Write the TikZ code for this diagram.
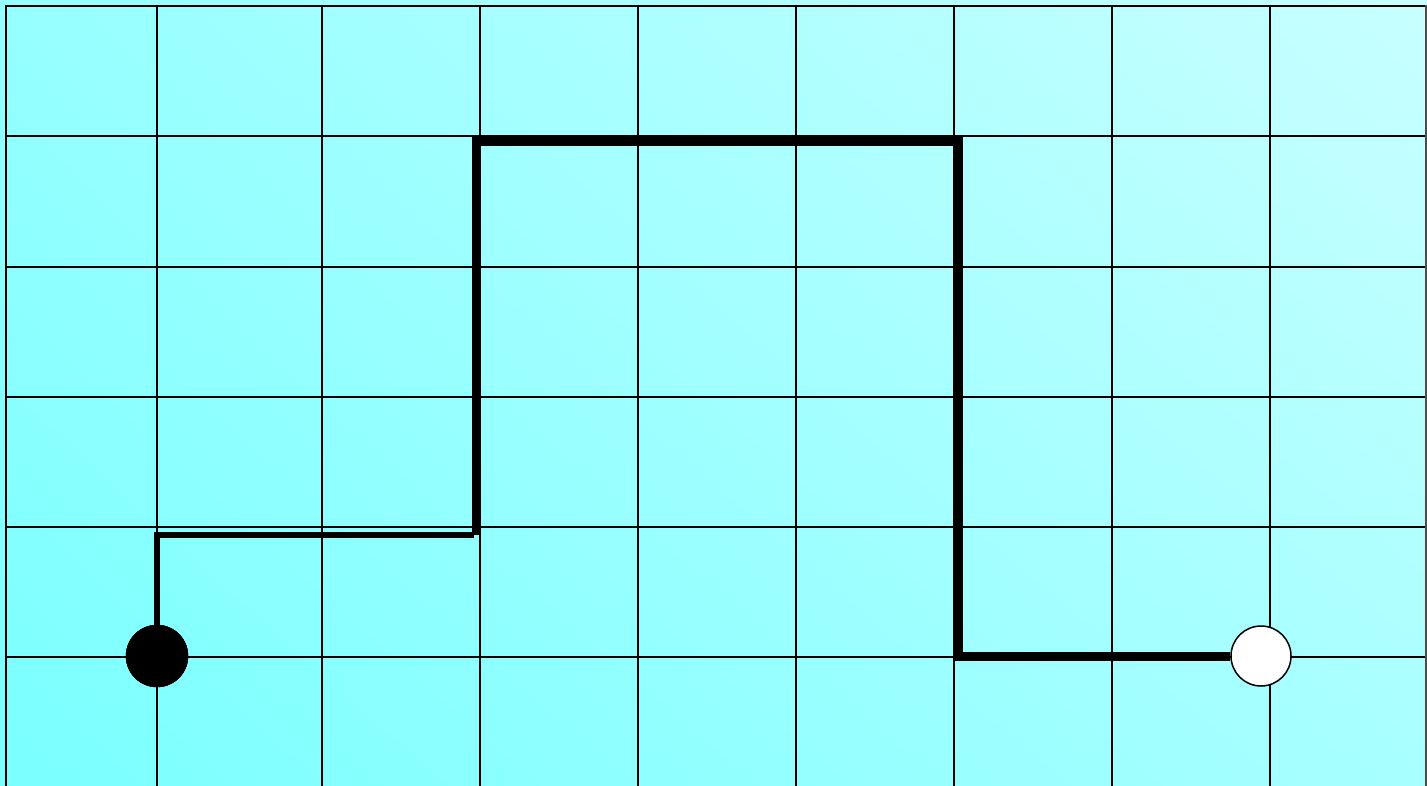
\documentclass[tikz,border=0pt]{standalone}
\usetikzlibrary{shadings}
\begin{document}
\begin{tikzpicture}[x=1pt,y=-1pt,
  gridline/.style={black,line width=2.2pt},
  thinpath/.style={black,line width=6pt,line join=miter},
  thickpath/.style={black,line width=9pt,line join=miter},
  startdot/.style={circle,fill=black,draw=black,minimum size=62pt,inner sep=0pt},
  enddot/.style={circle,fill=white,draw=black,line width=1.5pt,minimum size=60pt,inner sep=0pt}]
\definecolor{cLL}{RGB}{122,255,255}
\definecolor{cUL}{RGB}{150,255,255}
\definecolor{cUR}{RGB}{200,255,255}
\definecolor{cLR}{RGB}{168,255,255}
\useasboundingbox (0,0) rectangle (1427,786);
\shade[upper left=cUL,upper right=cUR,lower left=cLL,lower right=cLR] (0,0) rectangle (1427,786);
% grid
\foreach \y in {6,136,267,397,527,657} \draw[gridline] (5,\y) -- (1427,\y);
\foreach \x in {6,157,322,480,638,796,954,1112,1270} \draw[gridline] (\x,5) -- (\x,786);
\draw[black!70,line width=1.5pt] (1426,5) -- (1426,786);
% path
\node[startdot] (s) at (157,656) {};
\node[enddot] (e) at (1261,656) {};
\coordinate (a) at (157,535);
\coordinate (b) at (474,535);
\coordinate (c) at (476,535);
\coordinate (d) at (476,142);
\coordinate (f) at (958,142);
\coordinate (g) at (958,656);
\draw[thinpath] (s.center) -- (a) -- (b);
\draw[thickpath] (c) -- (d) -- (f) -- (g) -- (e.west);
\node[startdot] at (s) {};
\end{tikzpicture}
\end{document}
